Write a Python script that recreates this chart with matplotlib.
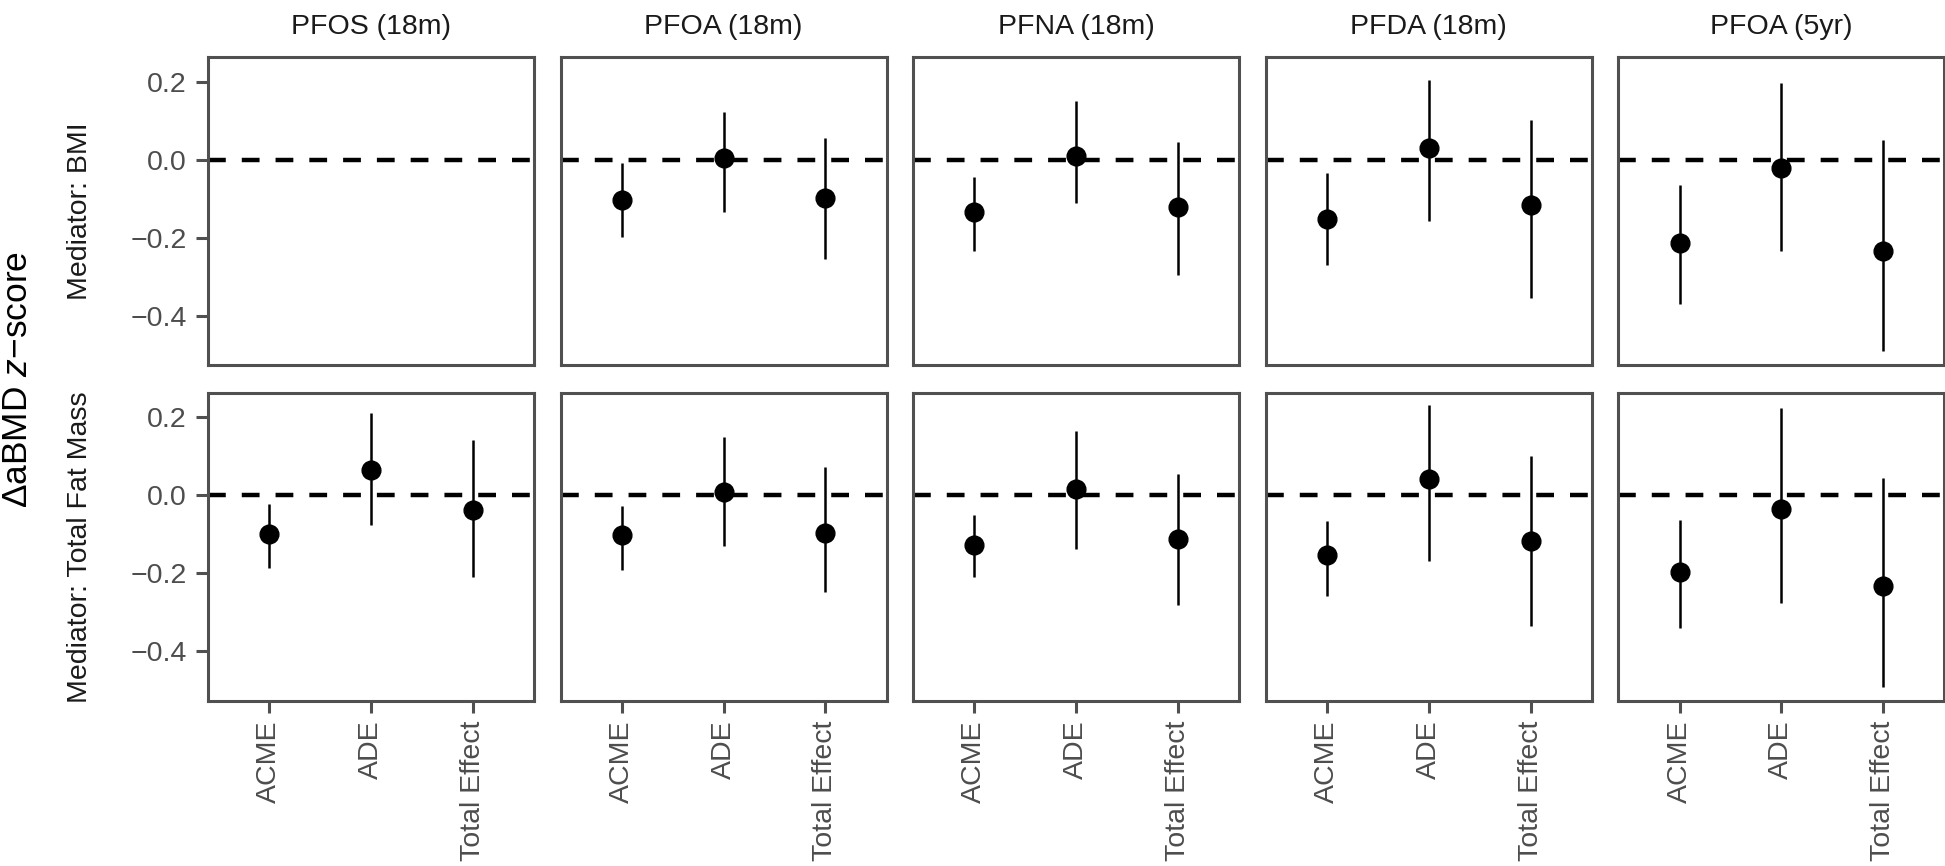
import numpy as np
import matplotlib
matplotlib.use("Agg")
import matplotlib.pyplot as plt

plt.rcParams['font.family'] = ['Liberation Sans', 'DejaVu Sans']
plt.rcParams['mathtext.fontset'] = 'custom'
plt.rcParams['mathtext.it'] = 'Liberation Sans:italic'
plt.rcParams['mathtext.rm'] = 'Liberation Sans'

# ---------------- data ----------------
exposures = ["PFOS (18m)", "PFOA (18m)", "PFNA (18m)", "PFDA (18m)", "PFOA (5yr)"]
mediators = ["Mediator: BMI", "Mediator: Total Fat Mass"]
effects = ["ACME", "ADE", "Total Effect"]

# Mediator: BMI (PFOS 18m has no estimates)
bmi_est = [None,
           [-0.102, 0.004, -0.098],
           [-0.133, 0.010, -0.122],
           [-0.151, 0.031, -0.117],
           [-0.212, -0.021, -0.234]]
bmi_lo = [None,
          [-0.198, -0.134, -0.255],
          [-0.234, -0.110, -0.295],
          [-0.269, -0.157, -0.354],
          [-0.369, -0.234, -0.489]]
bmi_hi = [None,
          [-0.009, 0.123, 0.055],
          [-0.045, 0.150, 0.046],
          [-0.033, 0.204, 0.102],
          [-0.064, 0.197, 0.050]]

# Mediator: Total Fat Mass
fat_est = [[-0.100, 0.064, -0.038],
           [-0.102, 0.007, -0.096],
           [-0.128, 0.015, -0.113],
           [-0.154, 0.040, -0.117],
           [-0.196, -0.036, -0.233]]
fat_lo = [[-0.186, -0.077, -0.209],
          [-0.191, -0.130, -0.249],
          [-0.210, -0.139, -0.282],
          [-0.257, -0.169, -0.335],
          [-0.339, -0.275, -0.490]]
fat_hi = [[-0.023, 0.209, 0.142],
          [-0.028, 0.149, 0.072],
          [-0.051, 0.165, 0.054],
          [-0.066, 0.230, 0.101],
          [-0.064, 0.223, 0.045]]

yticks = [-0.4, -0.2, 0.0, 0.2]
ytick_labels = ["\u22120.4", "\u22120.2", "0.0", "0.2"]

rows = [(bmi_est, bmi_lo, bmi_hi), (fat_est, fat_lo, fat_hi)]

# ---------------- layout ----------------
W, H = 1945, 866
fig = plt.figure(figsize=(W / 100, H / 100), dpi=100)

left0, pitch, pw = 208.0, 352.6, 326.0
row_top = [57.3, 392.7]
ph = 308.0

border_col = '#505050'
text_col = '#4D4D4D'
fs = 20.5

for r in range(2):
    est_all, lo_all, hi_all = rows[r]
    for c in range(5):
        x0 = left0 + c * pitch
        ax = fig.add_axes([x0 / W, 1 - (row_top[r] + ph) / H, pw / W, ph / H])
        ax.set_xlim(0.4, 3.6)
        ax.set_ylim(-0.526, 0.262)
        ax.axhline(0, color='black', lw=3.2, ls=(0, (4.0, 3.6)), zorder=1)
        if est_all[c] is not None:
            xs = np.arange(1, 4)
            est = np.array(est_all[c])
            lo = np.array(lo_all[c])
            hi = np.array(hi_all[c])
            ax.vlines(xs, lo, hi, color='black', lw=1.8, zorder=2)
            ax.plot(xs, est, 'o', color='black', ms=13.5, zorder=3)
        for s in ax.spines.values():
            s.set_color(border_col)
            s.set_linewidth(2.2)
        ax.set_xticks([1, 2, 3])
        ax.set_yticks(yticks)
        ax.tick_params(axis='both', direction='out', length=8.5, width=2.2,
                       color=border_col, labelcolor=text_col, labelsize=fs)
        ax.tick_params(axis='y', pad=7)
        ax.tick_params(axis='x', pad=6)
        if c == 0:
            ax.set_yticklabels(ytick_labels)
        else:
            ax.tick_params(axis='y', left=False, labelleft=False)
        if r == 1:
            ax.set_xticklabels(effects, rotation=90, ha='center', va='top')
        else:
            ax.tick_params(axis='x', bottom=False, labelbottom=False)
        if r == 0:
            fig.text((x0 + pw / 2) / W, 1 - 27 / H, exposures[c], ha='center', va='center',
                     fontsize=fs, color='#1A1A1A')
    fig.text(80 / W, 1 - (row_top[r] + ph / 2) / H, mediators[r], rotation=90,
             ha='center', va='center', fontsize=fs, color='#1A1A1A')

fig.text(18 / W, 1 - 379 / H, "\u0394aBMD $z$\u2212score", rotation=90,
         ha='center', va='center', fontsize=25.5, color='black')

fig.savefig("out.png", dpi=100, facecolor='white')
